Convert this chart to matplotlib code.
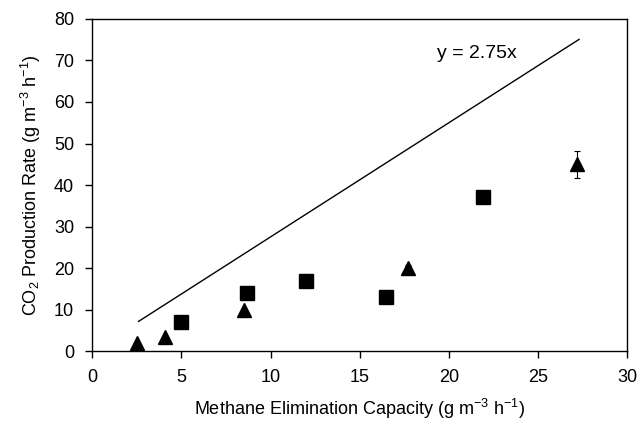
import numpy as np
import matplotlib
matplotlib.use('Agg')
import matplotlib.pyplot as plt

plt.rcParams['font.family'] = ['Liberation Sans', 'DejaVu Sans']
plt.rcParams['mathtext.fontset'] = 'custom'
plt.rcParams['mathtext.rm'] = 'Liberation Sans'
plt.rcParams['mathtext.it'] = 'Liberation Sans:italic'
plt.rcParams['mathtext.default'] = 'regular'

# triangles
tri_x = [2.5, 4.1, 8.5, 17.7, 27.2]
tri_y = [2.0, 3.5, 10.0, 20.0, 45.0]
tri_err = [0, 0, 0, 0.8, 3.2]

# squares
sq_x = [5.0, 8.7, 12.0, 16.5, 21.9]
sq_y = [7.0, 14.0, 17.0, 13.0, 37.0]
sq_err = [0, 0, 1.6, 0, 1.1]

# reference line y = 2.75x
line_x = [2.6, 27.3]
slope = 2.75

fig = plt.figure(figsize=(6.4, 4.21), dpi=100)
ax = fig.add_axes([0.144, 0.166, 0.836, 0.789])

ax.errorbar(tri_x, tri_y, yerr=tri_err, fmt='^', color='black', ms=10,
            ecolor='black', elinewidth=0.8, capsize=2.5, capthick=0.8)
ax.errorbar(sq_x, sq_y, yerr=sq_err, fmt='s', color='black', ms=9.5,
            ecolor='black', elinewidth=0.8, capsize=2.5, capthick=0.8)
ax.plot(line_x, [slope * v for v in line_x], color='black', lw=1)
ax.text(19.35, 70.6, 'y = 2.75x', fontsize=14)

ax.set_xlim(0, 30)
ax.set_ylim(0, 80)
ax.set_xticks(np.arange(0, 31, 5))
ax.set_yticks(np.arange(0, 81, 10))
ax.tick_params(direction='out', length=5, width=1, labelsize=13, colors='black', pad=8)
for s in ax.spines.values():
    s.set_linewidth(1)

ax.set_xlabel('Methane Elimination Capacity (g m$^{-3}$ h$^{-1}$)', fontsize=13, labelpad=8)
ax.set_ylabel('CO$_2$ Production Rate (g m$^{-3}$ h$^{-1}$)', fontsize=13, labelpad=8)

fig.savefig('out.png', dpi=100)
